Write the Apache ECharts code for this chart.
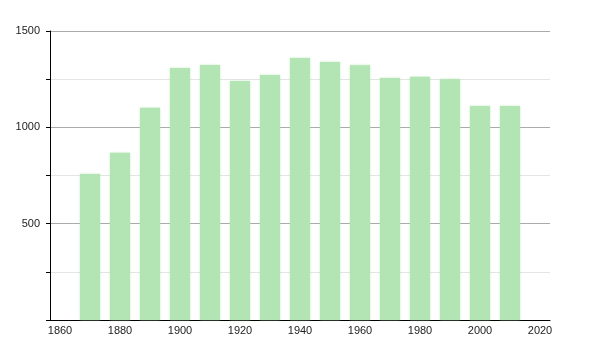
<!DOCTYPE html>
<html>
<head>
<meta charset="utf-8">
<script src="https://cdn.jsdelivr.net/npm/echarts@6/dist/echarts.min.js"></script>
<style>html,body{margin:0;padding:0;background:#fff}#c{width:600px;height:350px}</style>
</head>
<body>
<div id="c"></div>
<script>
const years = [1870, 1880, 1890, 1900, 1910, 1920, 1930, 1940, 1950, 1960, 1970, 1980, 1990, 2000, 2010];
const population = [758, 868, 1102, 1308, 1323, 1240, 1272, 1360, 1339, 1322, 1256, 1263, 1249, 1111, 1111];
const xTickLabels = [1860, 1880, 1900, 1920, 1940, 1960, 1980, 2000, 2020];
const yTickLabels = [500, 1000, 1500];

const chart = echarts.init(document.getElementById('c'), null, {renderer: 'canvas'});
chart.setOption({
  animation: false,
  grid: {left: 50, right: 50, top: 31, bottom: 30},
  xAxis: {
    type: 'value',
    min: 1860 - 10/3,
    max: 2020 + 10/3,
    axisLine: {show: true, onZero: false, lineStyle: {color: '#000', width: 1}},
    axisTick: {show: false},
    splitLine: {show: false},
    axisLabel: {
      customValues: xTickLabels,
      formatter: v => String(v),
      showMinLabel: true, showMaxLabel: true,
      color: '#222', fontSize: 11, fontFamily: 'Liberation Sans, Arial, sans-serif', margin: 5
    }
  },
  yAxis: {
    type: 'value',
    min: 0, max: 1500, interval: 250,
    axisLine: {show: true, lineStyle: {color: '#000', width: 1}},
    axisTick: {show: true, length: 4, lineStyle: {color: '#000'}},
    splitLine: {show: true, lineStyle: {color: ['#aaaaaa', '#e4e4e4'], width: 1}},
    axisLabel: {
      formatter: v => (yTickLabels.indexOf(v) >= 0 ? String(v) : ''),
      color: '#222', fontSize: 11, fontFamily: 'Liberation Sans, Arial, sans-serif', margin: 10
    }
  },
  series: [{
    type: 'bar',
    data: years.map((y, i) => [y, population[i]]),
    barWidth: 20,
    itemStyle: {color: '#b3e4b3', shadowBlur: 2, shadowColor: 'rgba(170,225,170,0.7)'}
  }]
});
</script>
</body>
</html>
